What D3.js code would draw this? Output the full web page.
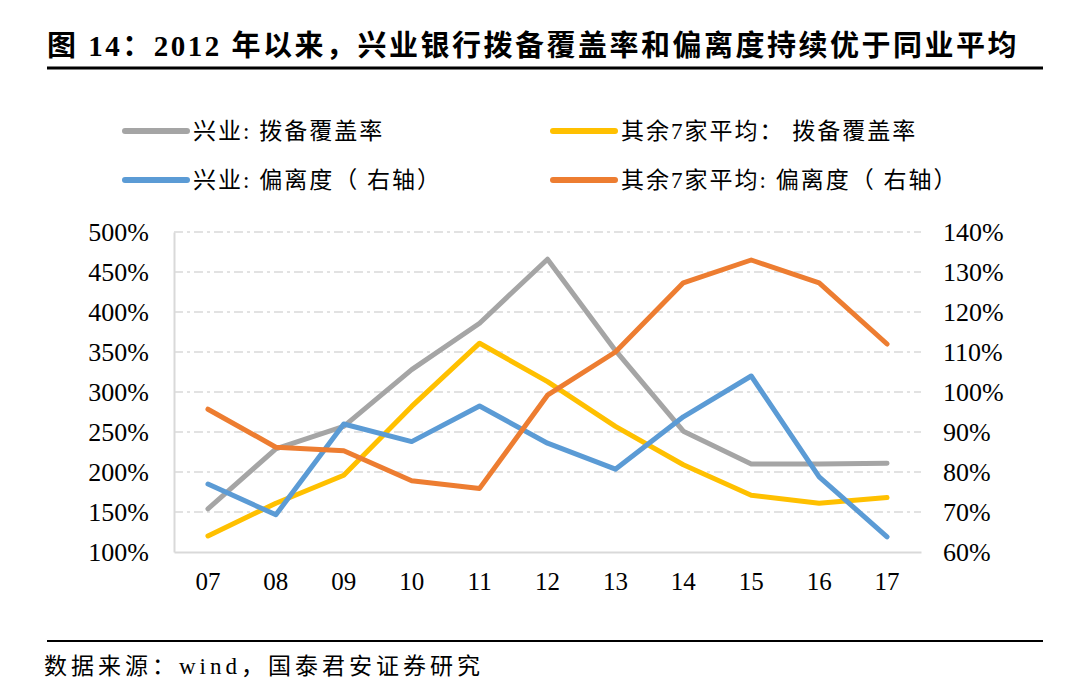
<!DOCTYPE html>
<html><head><meta charset="utf-8">
<script src="https://cdn.jsdelivr.net/npm/d3@7"></script>
<style>body{margin:0;background:#fff}svg{display:block}</style>
</head><body>
<svg id="c" width="1075" height="695"></svg>
<script>
const categories = ["07","08","09","10","11","12","13","14","15","16","17"];
const xyCoverage = [154,229,257,328,386,466,352,251,210,210,211];
const otherCoverage = [120,161,196,282,361,313,257,209,171,161,168];
const xyDeviation = [77,69.3,92,87.6,96.5,87.2,80.7,93.8,104,78.8,63.8];
const otherDeviation = [95.7,86.2,85.3,77.8,75.9,99.2,110,127.3,133,127.3,112];
const leftTicks = [100,150,200,250,300,350,400,450,500];
const rightTicks = [60,70,80,90,100,110,120,130,140];
const seriesNames = ["兴业: 拨备覆盖率","其余7家平均： 拨备覆盖率","兴业: 偏离度（ 右轴）","其余7家平均: 偏离度（ 右轴）"];
const colors = ["#A5A5A5","#FFC000","#5B9BD5","#ED7D31"];
const titleText = "图 14：2012 年以来，兴业银行拨备覆盖率和偏离度持续优于同业平均";
const sourceText = "数据来源：wind，国泰君安证券研究";

const svg = d3.select("#c");
const FONT = "'Liberation Serif','Noto Sans CJK SC',serif";
const L = 174, R = 921, T = 232, B = 552;

const x = d3.scaleBand().domain(categories).range([L, R]);
const yL = d3.scaleLinear().domain([100,500]).range([B, T]);
const yR = d3.scaleLinear().domain([60,140]).range([B, T]);

// title
svg.append("text").attr("x",47).attr("y",56).attr("font-family",FONT)
  .attr("font-size",29).attr("font-weight","bold").attr("letter-spacing",2.5).attr("fill","#000").text(titleText);
svg.append("line").attr("x1",47).attr("x2",1043).attr("y1",68).attr("y2",68)
  .attr("stroke","#000").attr("stroke-width",3);

// gridlines
svg.append("g").selectAll("line").data(leftTicks.slice(1)).join("line")
  .attr("x1",L).attr("x2",R).attr("y1",d=>yL(d)).attr("y2",d=>yL(d))
  .attr("stroke","#D9D9D9").attr("stroke-width",1.5).attr("stroke-dasharray","9,4,3,4");

// axes
const gl = svg.append("g").attr("transform",`translate(${L},0)`)
  .call(d3.axisLeft(yL).tickValues(leftTicks).tickFormat(d=>d+"%").tickSize(0).tickPadding(25));
gl.select(".domain").attr("stroke","#D9D9D9").attr("stroke-width",2);
gl.selectAll("text").attr("font-family",FONT).attr("font-size",26).attr("fill","#000");

const gr = svg.append("g").attr("transform",`translate(${R},0)`)
  .call(d3.axisRight(yR).tickValues(rightTicks).tickFormat(d=>d+"%").tickSize(0).tickPadding(22));
gr.select(".domain").remove();
gr.selectAll("text").attr("font-family",FONT).attr("font-size",26).attr("fill","#000");

const gb = svg.append("g").attr("transform",`translate(0,${B})`)
  .call(d3.axisBottom(x).tickSize(0).tickPadding(20));
gb.select(".domain").attr("stroke","#D9D9D9").attr("stroke-width",2);
gb.selectAll("text").attr("font-family",FONT).attr("font-size",25).attr("fill","#000").attr("dy","0.71em");

// lines
const cx = d => x(d) + x.bandwidth()/2;
const data = [
  {v: xyCoverage, y: yL, c: colors[0]},
  {v: otherCoverage, y: yL, c: colors[1]},
  {v: xyDeviation, y: yR, c: colors[2]},
  {v: otherDeviation, y: yR, c: colors[3]}
];
data.forEach(s => {
  const line = d3.line().x((d,j)=>cx(categories[j])).y(d=>s.y(d));
  svg.append("path").attr("d", line(s.v)).attr("fill","none")
    .attr("stroke", s.c).attr("stroke-width",5).attr("stroke-linejoin","round").attr("stroke-linecap","round");
});

// legend
const legendPos = [[125,131],[553,131],[125,180],[553,180]];
seriesNames.forEach((n,i) => {
  const [lx,ly] = legendPos[i];
  svg.append("line").attr("x1",lx).attr("x2",lx+62).attr("y1",ly).attr("y2",ly)
    .attr("stroke",colors[i]).attr("stroke-width",6).attr("stroke-linecap","round");
  svg.append("text").attr("x",lx+68).attr("y",ly).attr("dy","0.36em")
    .attr("font-family",FONT).attr("font-size",23).attr("letter-spacing",2).attr("fill","#000").text(n);
});

// footer
svg.append("line").attr("x1",47).attr("x2",1043).attr("y1",641).attr("y2",641)
  .attr("stroke","#000").attr("stroke-width",2);
svg.append("text").attr("x",44).attr("y",674).attr("font-family",FONT)
  .attr("font-size",23).attr("letter-spacing",4).attr("fill","#000").text(sourceText);
</script>
</body></html>
